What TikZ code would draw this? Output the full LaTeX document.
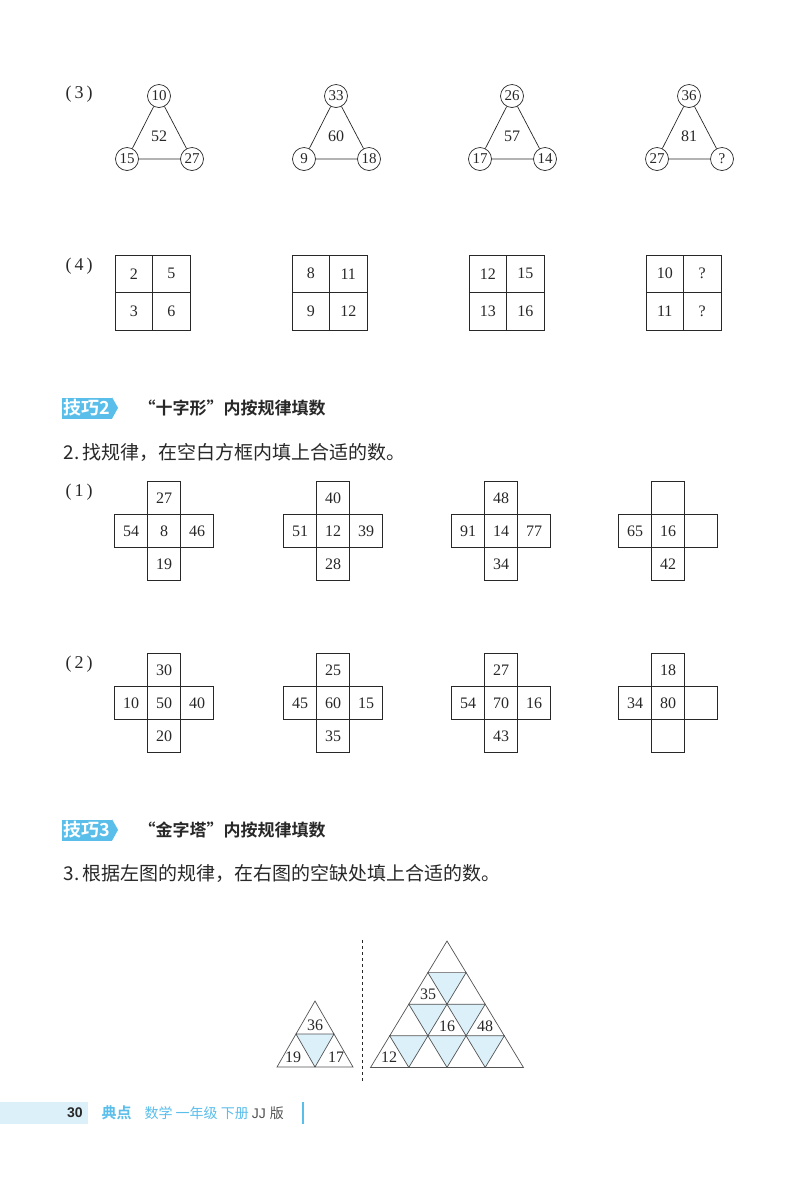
\documentclass[tikz,border=0pt]{standalone}
\usepackage{fontspec}
\setmainfont{Liberation Serif}
\setsansfont{Liberation Sans}
\newfontfamily\cjk{Noto Sans CJK SC}
\newfontfamily\cjkb{Noto Sans CJK SC Bold}
\definecolor{tipblue}{RGB}{90,190,235}
\definecolor{lightb}{RGB}{220,240,250}
\definecolor{ink}{RGB}{40,40,40}
\begin{document}
\begin{tikzpicture}[x=1pt,y=-1pt,
  num/.style={font=\fontsize{16}{16}\selectfont,text=ink,inner sep=0pt},
  circ/.style={circle,draw=ink,line width=0.7pt,minimum size=23pt,inner sep=0pt,font=\fontsize{15}{15}\selectfont,text=ink},
  cell/.style={draw=ink,line width=0.7pt,minimum size=33pt,inner sep=0pt,font=\fontsize{16}{16}\selectfont,text=ink},
  gcell/.style={draw=ink,line width=0.7pt,minimum width=37.5pt,minimum height=37.5pt,inner sep=0pt,font=\fontsize{16}{16}\selectfont,text=ink},
  lab/.style={font=\fontsize{18}{18}\selectfont,text=ink,anchor=west},
  tip/.style={fill=tipblue,text=white,font=\cjkb\fontsize{18}{18}\selectfont,inner sep=1.5pt,anchor=west,minimum height=21pt},
  head/.style={font=\cjkb\fontsize{17}{17}\selectfont,text=ink,anchor=west},
  body/.style={font=\cjk\fontsize{19}{19}\selectfont,text=ink,anchor=west},
  tri/.style={draw=ink!80,line width=0.7pt}]
\useasboundingbox (0,0) rectangle (800,1187);
\fill[white] (0,0) rectangle (800,1187);
% (3)
\node[lab] (l3) at (62,94) {(\,3\,)};
\foreach \cx/\a/\b/\c/\m [count=\i] in {159/10/15/27/52,336/33/9/18/60,512/26/17/14/57,689/36/27/?/81}{
  \node[circ] (t\i) at (\cx,96) {\a};
  \node[circ] (bl\i) at (\cx-32,159) {\b};
  \node[circ] (br\i) at (\cx+33,159) {\c};
  \node[num] (m\i) at (\cx,136) {\m};
  \draw[ink,line width=0.7pt] (t\i)--(bl\i)--(br\i)--(t\i);
}
% (4)
\node[lab] (l4) at (62,266) {(\,4\,)};
\foreach \x/\a/\b/\c/\d [count=\i] in {115/2/5/3/6,292/8/11/9/12,469/12/15/13/16,646/10/?/11/?}{
  \node[gcell] (ga\i) at (\x+18.75,273.75) {\a};
  \node[gcell] (gb\i) at (\x+56.25,273.75) {\b};
  \node[gcell] (gc\i) at (\x+18.75,311.25) {\c};
  \node[gcell] (gd\i) at (\x+56.25,311.25) {\d};
}
% technique 2
\node[tip] (tip2) at (62,408) {技巧2};
\fill[tipblue] (tip2.north east)--++(6,10.5)--(tip2.south east)--cycle;
\node[head] (h2) at (135,408) {“十字形”内按规律填数};
\node[body] (q2) at (60,452) {2.\,找规律，在空白方框内填上合适的数。};
% crosses
\node[lab] (c1l) at (62,492) {(\,1\,)};
\node[lab] (c2l) at (62,664) {(\,2\,)};
\foreach \x/\y/\t/\l/\c/\r/\b [count=\i] in {
 164/531/27/54/8/46/19, 333/531/40/51/12/39/28, 501/531/48/91/14/77/34, 668/531//65/16//42,
 164/703/30/10/50/40/20, 333/703/25/45/60/15/35, 501/703/27/54/70/16/43, 668/703/18/34/80//}{
  \node[cell] (cc\i) at (\x,\y) {\c};
  \node[cell] (ct\i) at (\x,\y-33) {\t};
  \node[cell] (cb\i) at (\x,\y+33) {\b};
  \node[cell] (cl\i) at (\x-33,\y) {\l};
  \node[cell] (cr\i) at (\x+33,\y) {\r};
}
% technique 3
\node[tip] (tip3) at (62,830) {技巧3};
\fill[tipblue] (tip3.north east)--++(6,10.5)--(tip3.south east)--cycle;
\node[head] (h3) at (135,830) {“金字塔”内按规律填数};
\node[body] (q3) at (60,873) {3.\,根据左图的规律，在右图的空缺处填上合适的数。};
% small pyramid
\fill[lightb] (296,1034)--(334,1034)--(315,1067)--cycle;
\draw[tri] (315,1001)--(277,1067)--(353,1067)--cycle (296,1034)--(334,1034)--(315,1067)--cycle;
\node[num] (s36) at (315,1025) {36};
\node[num] (s19) at (293,1057) {19};
\node[num] (s17) at (336,1057) {17};
% dashed line
\coordinate (d1) at (362,940); \coordinate (d2) at (362,1082);
\draw[ink,dashed,line width=0.7pt] (d1)--(d2);
% big pyramid
\def\ax{447}\def\ay{941}\def\rh{31.6}\def\hs{19.1}
\foreach \r in {1,2,3}{
  \pgfmathtruncatemacro\kk{\r-1}
  \foreach \k in {0,...,\kk}{
    \fill[lightb] ({\ax+(2*\k-\r)*\hs},{\ay+\r*\rh})--++({2*\hs},0)--++({-\hs},\rh)--cycle;
  }
}
\foreach \r in {0,1,2,3}{
  \foreach \k in {0,...,\r}{
    \draw[tri] ({\ax+(2*\k-\r)*\hs},{\ay+\r*\rh})--++({-\hs},\rh)--++({2*\hs},0)--cycle;
  }
}
\node[num] (b35) at (428,994) {35};
\node[num] (b16) at (447,1026) {16};
\node[num] (b48) at (485,1026) {48};
\node[num] (b12) at (389,1057) {12};
% footer
\fill[lightb] (0,1102) rectangle (88,1124);
\node[font=\sffamily\bfseries\fontsize{14}{14}\selectfont,text=ink] (pg) at (75,1113) {30};
\node[font=\cjkb\fontsize{15}{15}\selectfont,text=tipblue,anchor=west] (logo) at (98,1113) {典点};
\node[font=\cjk\fontsize{14}{14}\selectfont,text=tipblue,anchor=west] (ft) at (141,1113) {数学 一年级 下册 \textcolor{ink!80}{\sffamily JJ \cjk 版}};
\draw[tipblue,line width=1.5pt] (303,1102)--(303,1124);
\end{tikzpicture}
\end{document}
